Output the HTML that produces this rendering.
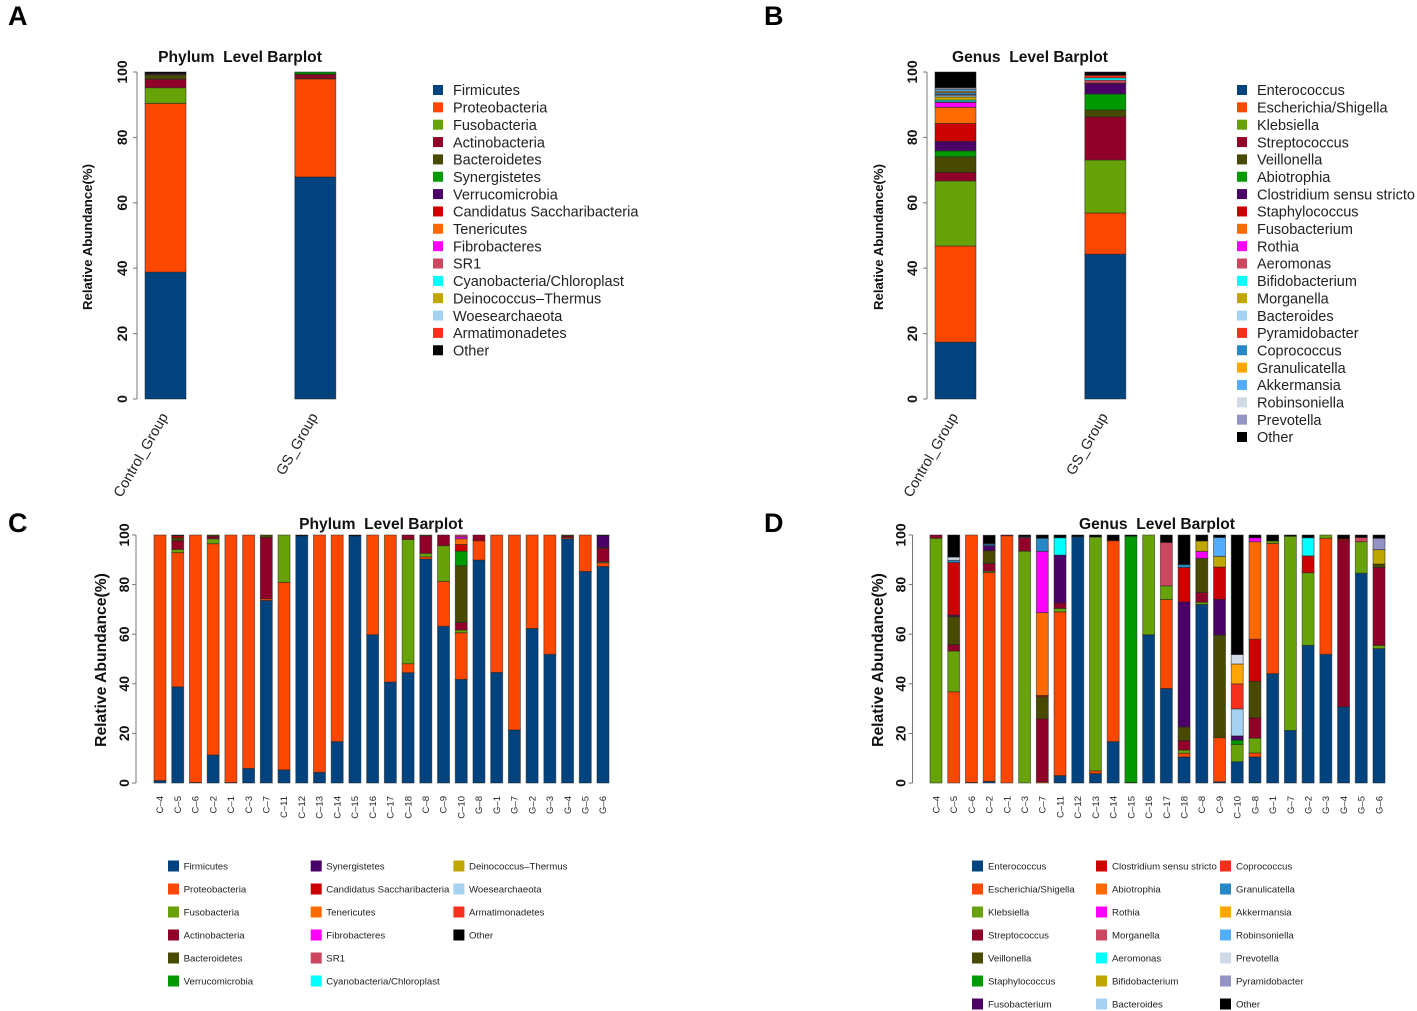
<!DOCTYPE html>
<html lang="en">
<head>
<meta charset="utf-8">
<title>Relative abundance barplots</title>
<style>
html,body{margin:0;padding:0;background:#fff;}
svg{display:block;font-family:"Liberation Sans",Arial,sans-serif;filter:blur(0.3px);}
.panel{font-size:27px;font-weight:bold;fill:#000;}
.title{font-size:15.6px;font-weight:bold;fill:#111;text-anchor:middle;}
.ytitle{font-weight:bold;fill:#111;text-anchor:middle;}
</style>
</head>
<body>
<svg id="figure" xmlns="http://www.w3.org/2000/svg" width="1417" height="1011" viewBox="0 0 1417 1011">
  <rect x="0" y="0" width="1417" height="1011" fill="#fff"/>
  <text class="panel" x="8" y="25">A</text>
  <text class="panel" x="764" y="25">B</text>
  <text class="panel" x="8" y="532">C</text>
  <text class="panel" x="764" y="532">D</text>
  <text class="title" x="240" y="62">Phylum&#160;&#160;Level Barplot</text>
  <text class="title" x="1030" y="62">Genus&#160;&#160;Level Barplot</text>
  <text class="title" x="381" y="529">Phylum&#160;&#160;Level Barplot</text>
  <text class="title" x="1157" y="529">Genus&#160;&#160;Level Barplot</text>
  <text class="ytitle" font-size="13.2" transform="translate(92,237) rotate(-90)">Relative Abundance(%)</text>
  <text class="ytitle" font-size="13.2" transform="translate(883,237) rotate(-90)">Relative Abundance(%)</text>
  <text class="ytitle" font-size="15.7" transform="translate(106,660) rotate(-90)">Relative Abundance(%)</text>
  <text class="ytitle" font-size="15.7" transform="translate(883,660) rotate(-90)">Relative Abundance(%)</text>
</svg>
<script>
/* ---------- shared ---------- */
const yTicks = [0, 20, 40, 60, 80, 100];
const groupLabels = ['Control_Group', 'GS_Group'];
const sampleLabels = ['C–4','C–5','C–6','C–2','C–1','C–3','C–7','C–11','C–12','C–13','C–14','C–15','C–16','C–17','C–18','C–8','C–9','C–10','G–8','G–1','G–7','G–2','G–3','G–4','G–5','G–6'];

/* ---------- series names ---------- */
const phylaGroupNames = ['Firmicutes','Proteobacteria','Fusobacteria','Actinobacteria','Bacteroidetes','Synergistetes','Verrucomicrobia','Candidatus Saccharibacteria','Tenericutes','Fibrobacteres','SR1','Cyanobacteria/Chloroplast','Deinococcus–Thermus','Woesearchaeota','Armatimonadetes','Other'];
const generaGroupNames = ['Enterococcus','Escherichia/Shigella','Klebsiella','Streptococcus','Veillonella','Abiotrophia','Clostridium sensu stricto','Staphylococcus','Fusobacterium','Rothia','Aeromonas','Bifidobacterium','Morganella','Bacteroides','Pyramidobacter','Coprococcus','Granulicatella','Akkermansia','Robinsoniella','Prevotella','Other'];
const phylaSampleNames = ['Firmicutes','Proteobacteria','Fusobacteria','Actinobacteria','Bacteroidetes','Verrucomicrobia','Synergistetes','Candidatus Saccharibacteria','Tenericutes','Fibrobacteres','SR1','Cyanobacteria/Chloroplast','Deinococcus–Thermus','Woesearchaeota','Armatimonadetes','Other'];
const generaSampleNames = ['Enterococcus','Escherichia/Shigella','Klebsiella','Streptococcus','Veillonella','Staphylococcus','Fusobacterium','Clostridium sensu stricto','Abiotrophia','Rothia','Morganella','Aeromonas','Bifidobacterium','Bacteroides','Coprococcus','Granulicatella','Akkermansia','Robinsoniella','Prevotella','Pyramidobacter','Other'];

/* ---------- values, one row per bar, stacked bottom to top in series order ---------- */
const phylaGroupValues = [
  [38.8,51.6,4.8,2.6,1.4,0,0.3,0,0,0,0,0,0,0,0,0.5],
  [67.9,30.0,0.1,1.2,0.2,0.6]
];
const generaGroupValues = [
  [17.4,29.4,19.9,2.6,4.8,1.8,2.9,5.5,4.9,1.5,0.2,0.5,1.0,0.5,0.2,0.6,0.4,0.6,0.4,0.1,4.8],
  [44.3,12.6,16.2,13.2,2.1,4.9,3.2,0.1,0,0,0.9,0.7,0,0,0.8,0,0,0,0,0,1.0]
];
const phylaSampleValues = [
  [1,99],
  [38.8,54.1,1.3,3.5,1.2,0,0,0.8,0,0,0,0,0,0,0,0.3],
  [0.2,99.8],
  [11.3,85.2,2.0,1.0,0.5],
  [0.2,99.8],
  [5.9,94.1],
  [73.6,0.7,0,24.7,1.0],
  [5.3,75.6,19.1],
  [99.6,0,0,0,0,0,0,0,0,0,0,0,0,0,0,0.4],
  [4.3,95.7],
  [16.7,83.3],
  [99.6,0,0,0,0,0,0,0,0,0,0,0,0,0,0,0.4],
  [59.8,40.2],
  [40.7,59.3],
  [44.5,3.6,50.1,1.8],
  [90.3,0.9,1.4,7.1,0.3],
  [63.2,18.1,14.4,4.3],
  [41.8,18.8,1.1,3.0,22.9,5.9,0,2.7,2.3,0.8,0.7],
  [89.9,7.8,0,2.3],
  [44.6,55.4],
  [21.4,78.6],
  [62.3,37.7],
  [51.9,48.1],
  [98.5,0.5,0,0.6,0.4],
  [85.3,14.7],
  [87.3,1.5,0.4,5.5,0.3,0,4.8,0,0,0,0,0,0,0,0,0.2]
];
const generaSampleValues = [
  [0,0,98.7,1.3],
  [0,36.8,16.4,2.6,11.3,0,0.6,21.2,0,0,0,0,0,0,0,0.9,0,0,1.3,0,8.9],
  [0.2,99.8],
  [0.7,84.2,0.5,3.1,5.2,0,2.0,0,0,0,0,0,0,0,0,0.6,0,0.2,0,0,3.4],
  [0,99.7,0,0.3],
  [0,0,93.5,5.5,0,0,0,0,0,0,0,0,0,0,0,0.3,0,0,0,0,0.7],
  [0,0.5,0,25.4,8.9,0,0,0.5,33.4,24.7,0,0,0,0,0,5.3,0,0,0,0,1.3],
  [3.0,66.0,1.4,2.2,0,0,19.3,0,0,0,0,7.0,0,0,0,0,0,0,0,0,1.1],
  [99.3,0,0,0,0,0,0,0,0,0,0,0,0,0,0,0,0,0,0,0,0.7],
  [3.8,1.1,94.3,0,0,0,0,0,0,0,0,0,0,0,0,0,0,0,0,0,0.8],
  [16.7,81.0,0,0,0,0,0,0,0,0,0,0,0,0,0,0,0,0,0,0,2.3],
  [0,0,0,0,0.2,99.3,0,0,0,0,0,0,0,0,0,0,0,0,0,0,0.5],
  [59.8,0,40.2],
  [38.1,35.9,5.5,0,0,0,0,0,0,0,17.5,0,0,0,0,0,0,0,0,0,3.0],
  [10.5,1.5,1.3,3.8,5.5,0,50.4,13.9,0,0,0,0,0,0,0,1.2,0,0,0,0,11.9],
  [72.0,0,0.9,3.9,13.8,0,0,0,0,2.8,0,0,4.2,0,0,0,0,0,0,0,2.4],
  [0.5,17.8,0,0,41.4,0,14.4,13.0,0,0,0,0,4.3,0,0,0,0,7.6,0,0,1.0],
  [8.6,0,7.0,0,0,1.7,1.7,0,0,0,0,0,0,10.9,10.1,0,8.0,0,3.8,0,48.2],
  [10.5,1.6,6.0,8.2,14.7,0,0,17.0,39.3,1.6,0,0,0,0,0,0,0,0,0,0,1.1],
  [44.1,52.5,1.0,0,0,0,0,0,0,0,0,0,0,0,0,0,0,0,0,0,2.4],
  [21.2,0,78.3,0,0,0,0,0,0,0,0,0,0,0,0,0,0,0,0,0,0.5],
  [55.5,0,29.3,0,0,0,0,6.8,0,0,0,7.3,0,0,0,0,0,0,0,0,1.1],
  [51.9,46.8,1.3],
  [30.7,0,0,67.0,0,0,0,0.7,0,0,0,0,0,0,0,0,0,0,0,0,1.6],
  [84.6,0,12.7,0,0,0,0,0,0,0,1.7,0,0,0,0,0,0,0,0,0,1.0],
  [54.2,0,1.3,31.4,1.4,0,0,0,0,0,0,0,5.8,0,0,0,0,0,0,4.6,1.3]
];

/* ---------- palettes (style, separate from data) ---------- */
const palette16 = ['#00437f','#fb4700','#66a208','#900028','#474a00','#009a00','#4b0068','#cc0000','#ff6a00','#ff00ff','#cc4660','#00ffff','#bfa600','#a6d2f2','#f92f1e','#000000'];
const palette21 = ['#00437f','#fb4700','#66a208','#900028','#474a00','#009a00','#4b0068','#cc0000','#ff6a00','#ff00ff','#cc4660','#00ffff','#bfa600','#a6d2f2','#f92f1e','#2688c6','#ffa500','#52adff','#cfdae6','#9393c4','#000000'];

const svg = document.getElementById('figure');
const NS = 'http://www.w3.org/2000/svg';
function make(tag, attrs) {
  const node = document.createElementNS(NS, tag);
  for (const k in attrs) node.setAttribute(k, attrs[k]);
  svg.appendChild(node);
  return node;
}
function slug(s) {
  return String(s).toLowerCase().replace(/[^a-z0-9]+/g, '-').replace(/^-|-$/g, '');
}

function drawChart(key, cfg, labels, names, rows, colors) {
  const yScale = v => cfg.y0 - v / 100 * (cfg.y0 - cfg.yTop);
  const xScale = i => cfg.x0 + i * cfg.step;

  const axis = make('line', {x1: cfg.axisX, x2: cfg.axisX, y1: yScale(yTicks[0]), y2: yScale(yTicks[yTicks.length - 1]), stroke: '#777', 'stroke-width': 1});
  
  

  yTicks.forEach(t => {
    const tick = make('line', {x1: cfg.axisX - 4, x2: cfg.axisX, y1: yScale(t), y2: yScale(t), stroke: '#777', 'stroke-width': 1});
    
    
    const lab = make('text', {transform: 'translate(' + cfg.tickBase + ',' + yScale(t) + ') rotate(-90)', 'text-anchor': 'middle', 'font-size': 14, 'font-weight': 'bold', fill: '#111'});
    lab.textContent = t;
    
    
  });

  rows.forEach((row, i) => {
    let acc = 0;
    names.forEach((name, s) => {
      const v = row[s] || 0;
      if (v <= 0) return;
      const top = yScale(acc + v), bottom = yScale(acc);
      const bar = make('rect', {x: xScale(i) - cfg.barW / 2, y: top, width: cfg.barW, height: bottom - top, fill: colors[s], stroke: '#222', 'stroke-opacity': 0.55, 'stroke-width': 0.9});
      
      
      acc += v;
    });
    const tx = xScale(i) + cfg.labelDx;
    const lab = make('text', {transform: 'translate(' + tx + ',' + cfg.labelY + ') rotate(' + cfg.labelAngle + ')', 'text-anchor': 'end', 'font-size': cfg.labelSize, fill: '#222'});
    lab.textContent = labels[i];
    
    
  });

  names.forEach((name, s) => {
    const col = Math.floor(s / cfg.legendRows);
    const rowIdx = s % cfg.legendRows;
    const cy = cfg.legendY + rowIdx * cfg.legendDy;
    const cx = cfg.legendX + col * cfg.legendCol;
    const swatch = make('rect', {x: cx, y: cy - cfg.swatch / 2, width: cfg.swatch, height: cfg.swatch, fill: colors[s]});
    
    
    const text = make('text', {x: cx + cfg.legendTextDx, y: cy + cfg.legendFont * 0.36, 'font-size': cfg.legendFont, fill: '#222'});
    text.textContent = name;
    
    
  });
}

const topCfg = {y0: 399, yTop: 72, step: 149.8, barW: 41, labelY: 416.5, labelAngle: -60, labelDx: 3, labelSize: 14.4, legendRows: 99, legendDy: 17.35, legendY: 90, legendCol: 0, swatch: 10, legendTextDx: 20, legendFont: 14.5};
const bottomCfg = {y0: 783, yTop: 535, step: 17.72, barW: 12, labelY: 796, labelAngle: -90, labelSize: 9.5, legendDy: 23, legendY: 866, swatch: 11, legendFont: 9.65};

drawChart('chart-a', Object.assign({}, topCfg, {x0: 165.5, axisX: 137, tickBase: 127, legendX: 433}), groupLabels, phylaGroupNames, phylaGroupValues, palette16);
drawChart('chart-b', Object.assign({}, topCfg, {x0: 955.5, axisX: 927, tickBase: 917, legendX: 1237}), groupLabels, generaGroupNames, generaGroupValues, palette21);
drawChart('chart-c', Object.assign({}, bottomCfg, {x0: 160, axisX: 136, tickBase: 129, labelDx: 3.2, legendX: 168, legendRows: 6, legendCol: 142.7, legendTextDx: 15.6}), sampleLabels, phylaSampleNames, phylaSampleValues, palette16);
drawChart('chart-d', Object.assign({}, bottomCfg, {x0: 936, axisX: 912.5, tickBase: 905.5, labelDx: 3.4, legendX: 972, legendRows: 7, legendCol: 124, legendTextDx: 16}), sampleLabels, generaSampleNames, generaSampleValues, palette21);
</script>
</body>
</html>
